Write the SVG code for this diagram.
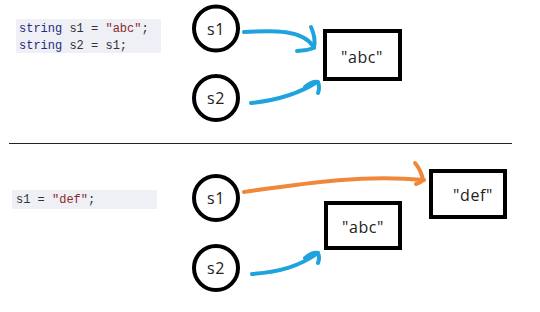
<svg xmlns="http://www.w3.org/2000/svg" width="540" height="312" viewBox="0 0 540 312">
<style>
.code{font-family:"Liberation Mono","DejaVu Sans Mono",monospace;font-size:12px;fill:#333}
.kw{fill:#2b2b80}
.str{fill:#8b2a2a}
.codebg{fill:#eef0f6}
.node circle{fill:#fff;stroke:#000;stroke-width:4}
.node rect{fill:#fff;stroke:#000;stroke-width:4}
.lbl{font-family:"Open Sans","DejaVu Sans",sans-serif;font-size:16px;letter-spacing:0.6px;fill:#222;text-anchor:middle;dominant-baseline:central}
.blue{fill:none;stroke:#1fa3dc;stroke-width:4;stroke-linecap:round;stroke-linejoin:round}
.orange{fill:none;stroke:#f0883a;stroke-width:4;stroke-linecap:round;stroke-linejoin:round}
</style>
<rect width="540" height="312" fill="#fff"/>
<g id="code1">
<rect class="codebg" x="16" y="19" width="145" height="34"/>
<text class="code" x="19" y="32"><tspan class="kw">string</tspan> s1 = <tspan class="str">"abc"</tspan>;</text>
<text class="code" x="19" y="49"><tspan class="kw">string</tspan> s2 = s1;</text>
</g>
<g id="code2">
<rect class="codebg" x="12" y="190" width="145" height="19"/>
<text class="code" x="16" y="203">s1 = <tspan class="str">"def"</tspan>;</text>
</g>
<line id="separator" x1="9" y1="143.5" x2="512" y2="143.5" stroke="#222" stroke-width="1.2"/>
<g id="top-s1" class="node"><circle cx="216" cy="28.5" r="22"/><text class="lbl" x="216" y="28.5">s1</text></g>
<g id="top-s2" class="node"><circle cx="216" cy="98" r="22"/><text class="lbl" x="216" y="98">s2</text></g>
<g id="top-abc" class="node"><rect x="325" y="31" width="75" height="48"/><text class="lbl" x="362" y="57">"abc"</text></g>
<g id="bot-s1" class="node"><circle cx="216" cy="198" r="22"/><text class="lbl" x="216" y="198">s1</text></g>
<g id="bot-s2" class="node"><circle cx="216" cy="268" r="22"/><text class="lbl" x="216" y="268">s2</text></g>
<g id="bot-abc" class="node"><rect x="326" y="203" width="74" height="45"/><text class="lbl" x="363" y="227">"abc"</text></g>
<g id="bot-def" class="node"><rect x="431" y="171" width="74" height="46"/><text class="lbl" x="473" y="195">"def"</text></g>
<g id="connectors">
<path class="blue" d="M244,32 C275,30 302,30 313,46"/>
<path class="blue" d="M311,27 Q316,38 314,48 Q306,51 297,51"/>
<path class="blue" d="M251,103 C280,100 300,93 317,82"/>
<path class="blue" d="M305,87 Q312,81 318,82 Q320,88 318,93"/>
<path class="orange" d="M244,192 C300,184 360,174 424,180"/>
<path class="orange" d="M415,163 Q421,170 423,180 Q420,183 416,184"/>
<path class="blue" d="M252,274 C280,272 300,266 318,253"/>
<path class="blue" d="M305,258 Q312,252 318,253 Q320,258 318,263"/>
</g>
</svg>
